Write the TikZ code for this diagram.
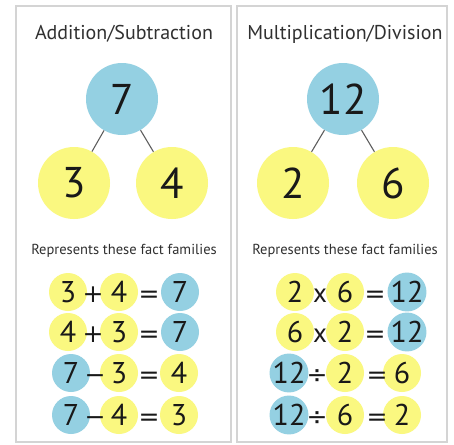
\documentclass[tikz,border=0pt]{standalone}
\usepackage{fontspec}
\setmainfont{PT Sans}
\newfontfamily\opfont{DejaVu Sans}
\definecolor{bbl}{RGB}{148,208,226}
\definecolor{yel}{RGB}{250,248,128}
\definecolor{frame}{RGB}{212,212,212}
\definecolor{ink}{RGB}{25,25,25}
\definecolor{linkc}{RGB}{95,95,95}
\tikzset{
  panel/.style={draw=frame, line width=1.4pt, fill=white},
  title/.style={font=\fontsize{20}{20}\selectfont, text=ink!90, inner sep=0pt},
  sub/.style={font=\fontsize{14.5}{14.5}\selectfont, text=ink!90, inner sep=0pt},
  bigb/.style={circle, fill=bbl, minimum size=72pt, inner sep=0pt, font=\fontsize{43}{43}\selectfont, text=ink},
  bigy/.style={circle, fill=yel, minimum size=72pt, inner sep=0pt, font=\fontsize{43}{43}\selectfont, text=ink},
  smb/.style={circle, fill=bbl, minimum size=38pt, inner sep=0pt, font=\fontsize{30}{30}\selectfont, text=ink},
  smy/.style={circle, fill=yel, minimum size=38pt, inner sep=0pt, font=\fontsize{30}{30}\selectfont, text=ink},
  op/.style={inner sep=0pt, text height=20pt, text depth=0pt, font=\opfont\fontsize{25}{25}\selectfont, text=ink},
  opx/.style={inner sep=0pt, text height=20pt, text depth=0pt, font=\fontsize{27}{27}\selectfont, text=ink},
  link/.style={draw=linkc, line width=1.1pt}
}
\begin{document}
\begin{tikzpicture}[x=1pt,y=-1pt]
\useasboundingbox (0,0) rectangle (454,444);
\fill[white] (0,0) rectangle (454,444);
\draw[panel] (16,6) rectangle (231,442);
\draw[panel] (237,6) rectangle (447,442);

% titles
\node[title] (tl) at (124,34) {Addition/Subtraction};
\node[title] (tr) at (345,34) {Multiplication/Division};

% left tree
\node[bigb] (a7) at (122,99) {7};
\node[bigy] (a3) at (74,183) {3};
\node[bigy] (a4) at (172,183) {4};
\draw[link] (a7) -- (a3);
\draw[link] (a7) -- (a4);

% right tree
\node[bigb] (m12) at (343,99) {12};
\node[bigy] (m2) at (293,183) {2};
\node[bigy] (m6) at (393,183) {6};
\draw[link] (m12) -- (m2);
\draw[link] (m12) -- (m6);

% subtitles
\node[sub] (sl) at (124,251) {Represents these fact families};
\node[sub] (sr) at (345,251) {Represents these fact families};

% left equations
\node[smy] (l1a) at (68,292) {3};
\node[smy] (l1b) at (119,292) {4};
\node[smb] (l1c) at (180,292) {7};
\node[op] (l1p) at (93,292) {+};
\node[op] (l1e) at (149,292) {=};

\node[smy] (l2a) at (68,332) {4};
\node[smy] (l2b) at (119,332) {3};
\node[smb] (l2c) at (180,332) {7};
\node[op] (l2p) at (93,332) {+};
\node[op] (l2e) at (149,332) {=};

\node[smb] (l3a) at (71,373) {7};
\node[smy] (l3b) at (119,373) {3};
\node[smy] (l3c) at (179,373) {4};
\node[op] (l3p) at (95,373) {−};
\node[op] (l3e) at (149,373) {=};

\node[smb] (l4a) at (71,415) {7};
\node[smy] (l4b) at (119,415) {4};
\node[smy] (l4c) at (179,415) {3};
\node[op] (l4p) at (95,415) {−};
\node[op] (l4e) at (149,415) {=};

% right equations
\node[smy] (r1a) at (295,292) {2};
\node[smy] (r1b) at (345,292) {6};
\node[smb] (r1c) at (407,292) {12};
\node[opx] (r1p) at (320,292) {x};
\node[op] (r1e) at (375,292) {=};

\node[smy] (r2a) at (295,332) {6};
\node[smy] (r2b) at (345,332) {2};
\node[smb] (r2c) at (407,332) {12};
\node[opx] (r2p) at (320,332) {x};
\node[op] (r2e) at (375,332) {=};

\node[smb] (r3a) at (289,373) {12};
\node[smy] (r3b) at (345,373) {2};
\node[smy] (r3c) at (402,373) {6};
\node[op] (r3p) at (317,373) {÷};
\node[op] (r3e) at (377,373) {=};

\node[smb] (r4a) at (289,415) {12};
\node[smy] (r4b) at (345,415) {6};
\node[smy] (r4c) at (402,415) {2};
\node[op] (r4p) at (317,415) {÷};
\node[op] (r4e) at (377,415) {=};
\end{tikzpicture}
\end{document}
